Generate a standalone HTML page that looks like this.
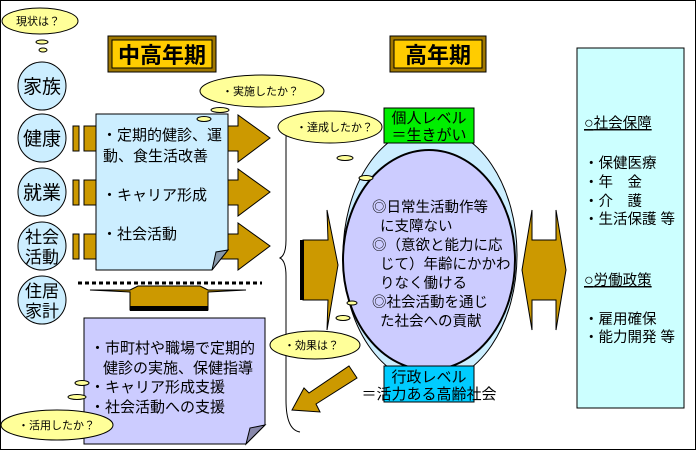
<!DOCTYPE html>
<html><head><meta charset="utf-8"><style>
body{margin:0;background:#fff}
svg{display:block}
text{font-family:"Liberation Sans","Noto Sans CJK JP",sans-serif;fill:#000}
</style></head><body>
<svg width="697" height="451" viewBox="0 0 697 451">
<rect x="0.5" y="0.5" width="695" height="449" fill="#fff" stroke="#000"/>
<rect x="108" y="36" width="108" height="36" fill="#a07800" stroke="#000"/>
<rect x="112" y="40" width="100" height="28" fill="#ffcc00" stroke="#000"/>
<text x="162" y="63" font-size="22" font-weight="bold" text-anchor="middle">中高年期</text>
<rect x="390" y="36" width="96" height="36" fill="#a07800" stroke="#000"/>
<rect x="394" y="40" width="88" height="28" fill="#ffcc00" stroke="#000"/>
<text x="438" y="63" font-size="22" font-weight="bold" text-anchor="middle">高年期</text>
<g fill="#cceeff" stroke="#000">
<circle cx="42" cy="86" r="24"/><circle cx="42" cy="138" r="24"/><circle cx="42" cy="192" r="24"/><circle cx="42" cy="246" r="24"/><circle cx="42" cy="300" r="24"/></g>
<g font-size="19" text-anchor="middle">
<text x="42" y="93">家族</text><text x="42" y="145">健康</text><text x="42" y="199">就業</text>
<text x="42" y="243" font-size="17">社会</text><text x="42" y="263" font-size="17">活動</text>
<text x="42" y="297" font-size="17">住居</text><text x="42" y="317" font-size="17">家計</text></g>
<g fill="#cc9900" stroke="#000">
<rect x="73" y="126" width="6" height="25"/><rect x="84" y="126" width="14" height="25"/>
<rect x="73" y="180" width="6" height="25"/><rect x="84" y="180" width="14" height="25"/>
<rect x="73" y="234" width="6" height="25"/><rect x="84" y="234" width="14" height="25"/>
<polygon points="220,126 238,126 238,115 270,138 238,162 238,151 220,151"/>
<polygon points="220,180 238,180 238,169 270,192 238,216 238,205 220,205"/>
<polygon points="220,234 238,234 238,223 270,246 238,270 238,259 220,259"/>
<polygon points="90,290 130,290 138,286 200,286 208,290 246,290 208,292 208,310 130,310 130,292"/>
</g>
<rect x="130" y="306" width="78" height="5" fill="#000"/>
<line x1="78" y1="283" x2="262" y2="283" stroke="#000" stroke-width="3" stroke-dasharray="4,3"/>
<polygon points="96,114 228,114 228,250 212,270 96,270" fill="#cceeff" stroke="#000"/>
<polygon points="212,270 216,252 228,250" fill="#8899aa" stroke="#000"/>
<g font-size="15"><text x="102" y="140">・定期的健診、運</text><text x="103" y="161">動、食生活改善</text>
<text x="102" y="200">・キャリア形成</text><text x="102" y="239">・社会活動</text></g>
<polygon points="84,318 265,318 265,425 246,444 84,444" fill="#ccccff" stroke="#000"/>
<polygon points="246,444 250,428 265,425" fill="#8888aa" stroke="#000"/>
<g font-size="15"><text x="90" y="353">・市町村や職場で定期的</text><text x="103" y="373">健診の実施、保健指導</text>
<text x="90" y="392">・キャリア形成支援</text><text x="90" y="412">・社会活動への支援</text></g>
<path d="M300,115 Q286,115 286,140 L286,240 Q286,255 280,258 Q286,261 286,276 L286,400 Q286,430 300,432" fill="none" stroke="#000"/>
<ellipse cx="430" cy="255" rx="87" ry="128" fill="#cceeff" stroke="#000"/>
<ellipse cx="429" cy="260" rx="86" ry="110" fill="#ccccff" stroke="#000" stroke-width="2"/>
<rect x="384" y="108" width="90" height="35" fill="#00ee00" stroke="#000"/>
<text x="429" y="123" font-size="15" text-anchor="middle">個人レベル</text>
<text x="429" y="140" font-size="15" text-anchor="middle">＝生きがい</text>
<g font-size="14.5"><text x="372" y="212">◎日常生活動作等</text><text x="380" y="231">に支障ない</text>
<text x="372" y="250">◎（意欲と能力に応</text><text x="380" y="269">じて）年齢にかかわ</text><text x="380" y="288">りなく働ける</text>
<text x="372" y="307">◎社会活動を通じ</text><text x="380" y="326">た社会への貢献</text></g>
<rect x="384" y="366" width="90" height="36" fill="#00ccff" stroke="#000"/>
<text x="429" y="382" font-size="15" text-anchor="middle">行政レベル</text>
<text x="429" y="399" font-size="15" text-anchor="middle">＝活力ある高齢社会</text>
<g fill="#cc9900" stroke="#000">
<polygon points="303,240 328,240 327,210 338,265 327,330 328,300 303,300"/>
<polygon points="532,210 532,240 556,240 556,210 566,270 556,330 556,300 532,300 532,330 522,270"/>
<polygon points="349,366 357,378 316,404 320,412 292,410 304,388 309,393"/>
</g>
<rect x="300" y="240" width="4" height="60" fill="#000"/>
<rect x="577" y="48" width="107" height="360" fill="#ccffff" stroke="#000"/>
<g font-size="14.5"><text x="584" y="128" text-decoration="underline"><tspan font-size="16">○</tspan>社会保障</text>
<text x="584" y="168">・保健医療</text><text x="584" y="187">・年　金</text><text x="584" y="206">・介　護</text><text x="584" y="224">・生活保護 等</text>
<text x="584" y="285" text-decoration="underline"><tspan font-size="16">○</tspan>労働政策</text>
<text x="584" y="324">・雇用確保</text><text x="584" y="342">・能力開発 等</text></g>
<g fill="#ffff99" stroke="#000">
<ellipse cx="40" cy="21" rx="38" ry="13"/>
<ellipse cx="42" cy="42" rx="6" ry="2"/><ellipse cx="43" cy="50" rx="4" ry="2"/>
<ellipse cx="262" cy="91" rx="62" ry="16"/>
<ellipse cx="220" cy="110" rx="9" ry="2.5"/><ellipse cx="204" cy="119" rx="7" ry="2.5"/>
<ellipse cx="330" cy="127" rx="52" ry="16"/>
<ellipse cx="345" cy="158" rx="8" ry="2.5"/><ellipse cx="366" cy="178" rx="7" ry="2.5"/>
<ellipse cx="315" cy="345" rx="45" ry="14"/>
<ellipse cx="343" cy="318" rx="7" ry="2.5"/><ellipse cx="352" cy="303" rx="5" ry="2"/>
<ellipse cx="57" cy="425" rx="56" ry="15"/>
<ellipse cx="77" cy="397" rx="9" ry="2.5"/><ellipse cx="82" cy="383" rx="7" ry="2.5"/>
</g>
<g font-size="11"><text x="16" y="25">現状は？</text><text x="222" y="95">・実施したか？</text>
<text x="296" y="131">・達成したか？</text><text x="284" y="349">・効果は？</text><text x="18" y="429">・活用したか？</text></g>
</svg>
</body></html>
